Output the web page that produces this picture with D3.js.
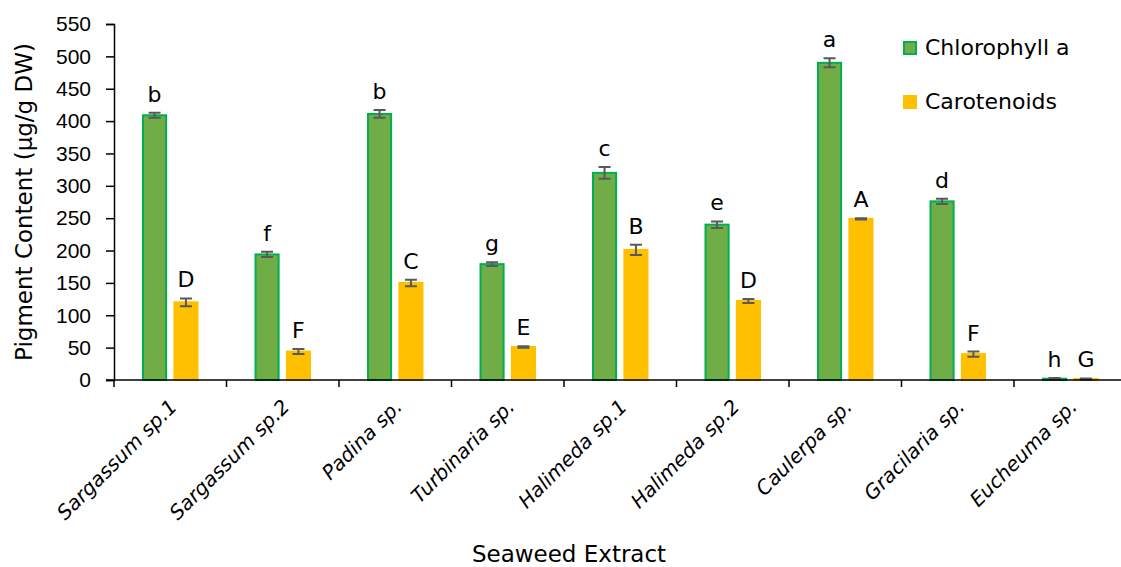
<!DOCTYPE html>
<html>
<head>
<meta charset="utf-8">
<script src="https://cdn.jsdelivr.net/npm/d3@7"></script>
<style>
  body { margin: 0; background: #fff; }
  svg { font-family: "DejaVu Sans", sans-serif; }
</style>
</head>
<body>
<div id="chart"></div>
<script>
let categories = ["Sargassum sp.1", "Sargassum sp.2", "Padina sp.", "Turbinaria sp.", "Halimeda sp.1",
    "Halimeda sp.2", "Caulerpa sp.", "Gracilaria sp.", "Eucheuma sp."]
let chl_values = [409, 194, 411, 179, 320, 240, 490, 276, 2]
let chl_errors = [4, 4, 6, 3, 9, 5, 7, 4, 1]
let chl_letters = ["b", "f", "b", "g", "c", "e", "a", "d", "h"]
let car_values = [120, 44, 150, 51, 201, 122, 249, 40, 1.5]
let car_errors = [6, 4, 5, 1, 8, 3, 1, 4, 1]
let car_letters = ["D", "F", "C", "E", "B", "D", "A", "F", "G"]
let series_names = ["Chlorophyll a", "Carotenoids"]
let y_ticks = [0, 50, 100, 150, 200, 250, 300, 350, 400, 450, 500, 550]

let width = 1121, height = 567
let plot_left = 114, plot_top = 24, plot_bottom = 380
let band = 112.5

let svg = d3.select("#chart").append("svg")
    .attr("width", width)
    .attr("height", height)

let x = d3.scaleBand()
    .domain(categories)
    .range([plot_left, plot_left + band * categories.length])

let y = d3.scaleLinear()
    .domain([0, 550])
    .range([plot_bottom, plot_top])

let inner = d3.scaleBand()
    .domain([0, 1])
    .range([28, band - 28])
    .paddingInner(0.2)

let fills = ["#70AD47", "#FFC000"]
let strokes = ["#00B050", "#FFC000"]

let series = [
    {values: chl_values, errors: chl_errors, letters: chl_letters},
    {values: car_values, errors: car_errors, letters: car_letters}
]

// bars
series.forEach((s, si) => {
    let rows = categories.map((c, i) => ({cat: c, v: s.values[i], e: s.errors[i], l: s.letters[i]}))
    let g = svg.append("g")

    g.selectAll("rect")
        .data(rows)
        .enter().append("rect")
        .attr("x", (d) => x(d.cat) + inner(si) + 1)
        .attr("y", (d) => y(d.v))
        .attr("width", inner.bandwidth() - 2)
        .attr("height", (d) => y(0) - y(d.v))
        .style("fill", fills[si])
        .style("stroke", strokes[si])
        .style("stroke-width", 2)

    let cx = (d) => x(d.cat) + inner(si) + inner.bandwidth() / 2

    g.selectAll(".err")
        .data(rows)
        .enter().append("path")
        .attr("class", "err")
        .attr("d", (d) => {
            let t = y(d.v + d.e), b = y(d.v - d.e), c = cx(d)
            return `M${c - 6},${t}H${c + 6}M${c},${t}V${b}M${c - 6},${b}H${c + 6}`
        })
        .style("fill", "none")
        .style("stroke", "#595959")
        .style("stroke-width", 2)

    g.selectAll(".lbl")
        .data(rows)
        .enter().append("text")
        .attr("class", "lbl")
        .attr("x", (d) => cx(d))
        .attr("y", (d) => y(d.v + d.e) - 11)
        .attr("text-anchor", "middle")
        .style("font-size", "22px")
        .text((d) => d.l)
})

// y axis
let yAxis = svg.append("g")
    .attr("transform", `translate(${plot_left},0)`)
    .call(d3.axisLeft(y).tickValues(y_ticks).tickSize(8).tickPadding(15))
yAxis.selectAll("text").style("font-size", "21px").style("fill", "#000")
yAxis.selectAll("line, path").style("stroke", "#000").style("stroke-width", 1.5)

// x axis
let boundaries = d3.range(categories.length + 1).map((i) => plot_left + i * band)
let xg = svg.append("g")
xg.append("line")
    .attr("x1", plot_left - 8).attr("x2", width)
    .attr("y1", plot_bottom).attr("y2", plot_bottom)
    .style("stroke", "#000").style("stroke-width", 1.5)
xg.selectAll(".tick")
    .data(boundaries)
    .enter().append("line")
    .attr("x1", (d) => d).attr("x2", (d) => d)
    .attr("y1", plot_bottom).attr("y2", plot_bottom + 7)
    .style("stroke", "#000").style("stroke-width", 1.5)
xg.selectAll(".xl")
    .data(categories)
    .enter().append("text")
    .attr("text-anchor", "end")
    .attr("transform", (d) => `translate(${x(d) + band / 2 + 8},${plot_bottom + 28}) rotate(-45)`)
    .style("font-size", "20px")
    .style("font-style", "italic")
    .text((d) => d)

// axis titles
svg.append("text")
    .attr("transform", `translate(32,${(plot_top + plot_bottom) / 2}) rotate(-90)`)
    .attr("text-anchor", "middle")
    .style("font-size", "23px")
    .text("Pigment Content (µg/g DW)")

svg.append("text")
    .attr("x", 569).attr("y", 562)
    .attr("text-anchor", "middle")
    .style("font-size", "23px")
    .text("Seaweed Extract")

// legend
let legend = svg.append("g").attr("transform", "translate(903,41)")
series_names.forEach((name, i) => {
    legend.append("rect")
        .attr("x", 1).attr("y", i * 54 + 1)
        .attr("width", 12).attr("height", 12)
        .style("fill", fills[i])
        .style("stroke", strokes[i])
        .style("stroke-width", 2)
    legend.append("text")
        .attr("x", 22).attr("y", i * 54 + 14)
        .style("font-size", "22px")
        .text(name)
})
</script>
</body>
</html>
